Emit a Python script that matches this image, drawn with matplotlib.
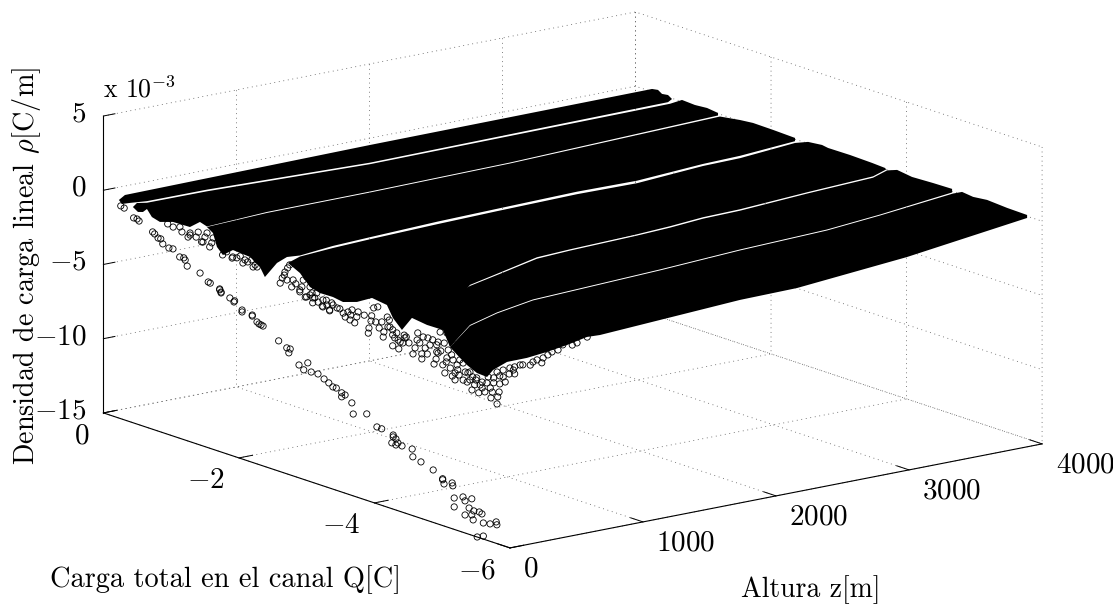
import matplotlib
matplotlib.use('Agg')
import matplotlib.pyplot as plt
from matplotlib.transforms import Affine2D
from mpl_toolkits.mplot3d.art3d import Poly3DCollection

plt.rcParams['font.family'] = ['cmr10', 'DejaVu Serif']
plt.rcParams['mathtext.fontset'] = 'cm'
plt.rcParams['axes.unicode_minus'] = False
plt.rcParams['grid.linestyle'] = (0, (1, 4.5))
plt.rcParams['grid.linewidth'] = 0.6
plt.rcParams['grid.color'] = '#555555'

# isolated points near the channel base
diag_z = 100
diag_q = [-0.06,-0.11,-0.25,-0.3,-0.33,-0.53,-0.56,-0.61,-0.65,-0.68,
          -0.77,-0.83,-0.93,-0.99,-1.01,-1.04,-1.23,-1.35,-1.38,-1.52,
          -1.54,-1.52,-1.54,-1.67,-1.73,-1.74,-1.85,-1.85,-2,-2,
          -2.07,-2.1,-2.13,-2.16,-2.39,-2.51,-2.56,-2.54,-2.69,-2.82,
          -2.76,-2.87,-2.97,-3.06,-3.13,-3.19,-3.24,-3.32,-3.37,-3.32,
          -3.47,-3.49,-3.69,-3.84,-3.91,-4.08,-4.08,-4.12,-4.15,-4.06,
          -4.12,-4.21,-4.36,-4.37,-4.49,-4.67,-4.81,-4.81,-4.83,-4.95,
          -4.96,-4.98,-4.98,-5.11,-5.14,-5.24,-5.2,-5.27,-5.35,-5.39,
          -5.14,-5.24,-5.26,-5.41,-5.51,-5.6,-5.61,-5.32,-5.41]
diag_rho = [-1.14,-1.21,-1.66,-1.66,-1.75,-2.18,-2.27,-2.47,-2.47,-2.76,
            -2.9,-2.87,-3.26,-3.23,-3.35,-3.71,-3.89,-4.31,-4.34,-4.58,
            -4.7,-4.52,-4.76,-4.9,-5.08,-4.99,-5.44,-5.57,-5.55,-5.62,
            -5.91,-6,-6.02,-6.05,-6.7,-6.99,-6.99,-7.28,-7.87,-7.53,
            -8.09,-8.07,-8.05,-8.25,-8.41,-8.59,-8.59,-8.79,-8.86,-9.06,
            -9.24,-9.96,-9.65,-10.3,-10.32,-10.48,-10.61,-10.68,-10.91,-11.04,
            -11.09,-11.02,-11,-11.51,-11.67,-11.94,-12.32,-12.39,-12.64,-12.39,
            -12.57,-13.36,-13.96,-13.09,-13.31,-13.02,-13.7,-13.79,-13.74,-13.81,
            -14.26,-14.1,-14.41,-14.39,-14.3,-14.03,-14.21,-15.47,-15.27]

# loose circles along the low edge of the bands
spike_z = 300
spike_q = [-0.44,-0.57,-0.69,-0.88,-0.98,-1.32,
           -1.47,-1.65,-0.36,-0.54,-0.66,-0.69,-0.81,-0.86,-0.91,-0.94,-1.01,-1.03,-1.17,-1.31,-1.38,-1.5,-1.6,-1.62,-1.68,-1.68,-2.02,
           -2.05,-2.08,-2.13,-2.16,-2.12,-2.19,-2.21,-2.31,-2.34,-2.41,-2.5,-2.5,-2.36,-2.41,-2.46,-2.65,-2.75,-2.86,-2.56,-2.65,-2.78,
           -2.39,-2.64,-2.75,-2.95,-2.98,-3.02,-3.12,-3.17,-3.15,-3.05,-3.32,-3.33,-3.36,-3.37,-3.4,-3.46,-3.48,-3.55,-3.54,-3.52,-3.6,
           -3.63,-3.68,-3.77,-3.71,-3.79,-3.86,-3.74,-3.68,-3.98,-4.01,-4.04,-4.16,-4.11,-4.19,-4.11,-4.05,-4.29,-4.32,-4.33,-4.35,-4.38,
           -4.44,-4.2,-4.48,-4.45,-4.42,-4.48,-4.5,-4.6,-4.6,-4.63,-4.55,-4.75,-4.67,-4.78,-4.85,-4.89,-4.95,-5.04,-5,-4.86,-5.07,-5.15,
           -5.25,-5.13,-5.23,-5.22,-5.26,-5.17,-5.31,-5.22,-5.4,-5.48,-5.71,-5.9,-5.88,-5.56,-5.41,-6.03,-6.19,-6.4,-6.55,-2.31,-2.46,
           -2.53,-2.58,-2.71,-2.8,-3.08,-3.61,-3.68,-3.83,-3.88,-4.13,-4.27,-4.35,-4.57,-4.64,-4.72,-4.79,-4.82,-4.92,-5,-5.09,-5.31,-5.46,
           -5.6,-5.75,-5.97,-6.33,
           -4.33,-4.39,-4.47,-4.53,-4.56,-4.66,-4.72,-4.82,-4.91,-4.97,-5.12,-5.17,-5.26,-5.34,
           -3.85,-3.92,-3.76,-3.64,-3.43,-3.26,-3.06,-2.9,-2.7,-2.49,-2.25,-2.09,-1.23,-1.43,-1.54,-0.78,
           -4.08,-4.23,-4.6,-5.48,-5.81,-6.12]
spike_rho = [-2.34,-2.47,-2.5,-2.68,-2.86,-3.02,-3.2,-3.06,-2.25,-2.18,-2.68,-2.36,-2.12,-2.7,-2.3,-1.98,-2.54,
             -2.18,-3.11,-3.11,-2.99,-2.95,-2.79,-3.24,-2.68,-3.15,-3.72,-3.33,-3.09,-2.53,-2.28,-3.36,-3.72,-3.22,-3.87,-3.49,-4.06,-3.99,
             -4.32,-3,-2.71,-3.31,-4.37,-4.42,-4.12,-3.56,-3.9,-3.9,-4.1,-4.33,-4.48,-4.33,-4.55,-4.15,-4.73,-3.92,-4.28,-4.64,-5.12,-4.76,
             -4.24,-3.88,-3.3,-3.14,-4.53,-4.69,-5.05,-4.06,-3.61,-3.77,-5.43,-5.5,-4.85,-5.01,-4.62,-4.47,-4.69,-5.52,-5.07,-4.49,-4.85,
             -5.32,-5.21,-5.66,-4,-5.73,-5.35,-4.85,-4.16,-3.44,-4.09,-4.11,-3.35,-6.09,-5.59,-5.03,-4.47,-6.33,-5.86,-5.28,-4.72,-5.57,
             -4.88,-6.2,-6.63,-6.22,-6.67,-6.47,-6.27,-5.73,-5.82,-6.32,-6.16,-6.74,-6.52,-7.01,-5.6,-5.66,-5.06,-4.86,-4.72,-4.12,-3.65,
             -2.88,-3.24,-3.87,-4.3,-2.28,-1.56,-1.11,-0.49,-3.74,-3.85,-3.94,-4.15,-4.15,-4.01,-3.92,-4.26,-4.35,-5.01,-4.53,-4.15,-4.13,
             -4.9,-5.03,-5.59,-5.01,-5.57,-6,-5.71,-5.87,-5.39,-4.59,-4.36,-3.8,-3.38,-2.57,-1.36,
             -4.38,-4.7,-5.32,-5.64,-6.13,-5.91,-6.16,-5.46,-5.87,-6.11,-6.09,-5.33,-5.06,-5.35,
             -4.45,-4.87,-4.92,-4.22,-4.2,-4,-4.29,-4.12,-3.84,-3.67,-3.42,-2.87,-2.81,-2.79,-3.02,-2.5,
             -4.63,-4.54,-3.98,-4.59,-3.15,-2.01]

# outlines of the six dense bands of points (Q, z, rho)
band1_q = [0.066,-0.023,-0.35,-0.35,-0.43,-0.489,-0.578,-0.637,-0.578,-0.35,-0.35,-0.348,-0.097,0.021]
band1_z = [150,150,1825,3946,3950,3950,3950,3950,3950,1825,600,150,150,150]
band1_rho = [-1.02,-0.55,0.38,0.44,0.49,0.31,0.37,0.19,-0.11,-0.81,-0.48,-0.47,-0.97,-1.22]

band2_q = [-0.141,-0.2,-0.348,-0.9,-0.9,-0.9,-0.9,-0.976,-1.154,-1.316,-1.316,-0.9,-0.9,-0.9,-0.9,-0.9,-0.9,-0.731,-0.539,-0.421,-0.348,-0.289,-0.215]
band2_z = [150,150,150,320,1545,3801,3891,3950,3950,3950,3950,2598,1545,771,320,267,192,150,150,150,150,150,150]
band2_rho = [-1.18,-0.82,-0.58,0.73,0.41,0.53,0.63,0.3,0.37,0.28,0.11,-1.32,-1.43,-1.45,-1.64,-1.24,-1.45,-1.29,-1.58,-1.43,-1,-1.29,-1.4]

band3_q = [-1.233,-1.8,-1.8,-1.8,-1.8,-1.8,-1.832,-2.128,-2.452,-2.452,-1.8,-1.8,-1.8,-1.8,-1.8,-1.8,-1.8,-1.8,-1.8,-1.8,-1.8,-1.8,-1.8,-1.8,-1.617,-1.469,-1.381,-1.322]
band3_z = [150,312,1087,2139,3718,3869,3950,3950,3950,3950,3869,3591,3094,2643,2042,1591,1087,809,561,463,388,297,260,185,150,150,150,150]
band3_rho = [-0.87,0.65,0.67,0.78,1.18,0.68,0.39,0.37,0.32,0.1,-1.73,-1.79,-2.05,-2,-2.1,-2.18,-2.34,-2.44,-2.65,-2.58,-2.85,-3.64,-2.9,-2.09,-1.84,-2.4,-1.99,-1.14]

band4_q = [-2.606,-3,-3,-3,-3,-3,-3,-3,-3,-3,-3,-3,-3,-3.264,-3.589,-3.781,-3.796,-3.604,-3,-3,-3,-3,-3,-3,-3,-3,-3,-3,-3,-3,-3,-3,-3,-3,-3,-3,-3,-3,-2.901,-2.754,-2.606,-2.429]
band4_z = [150,197,476,979,1430,2032,2483,2979,3258,3671,3769,3874,3919,3950,3950,3950,3950,3950,3761,3258,2979,2731,2483,1979,1731,1476,1227,1077,1024,904,791,716,648,603,491,378,273,197,150,150,150,150]
band4_rho = [-0.78,0.31,0.41,0.54,0.63,0.72,0.67,0.96,1,1.3,1.2,0.81,0.53,0.4,0.36,0.31,0.23,-0.52,-2.18,-2.44,-2.49,-2.66,-2.77,-2.9,-3,-3.5,-3.98,-5.4,-6.66,-6.11,-5.44,-6.12,-5.19,-4.24,-3.57,-3.64,-3.46,-2.99,-2.79,-2.61,-1.89,-1.48]

band5_q = [-4.2,-4.2,-4.2,-4.2,-4.2,-4.2,-4.2,-4.2,-4.2,-4.2,-4.2,-4.2,-4.2,-4.489,-4.77,-4.77,-4.2,-4.2,-4.2,-4.2,-4.2,-4.2,-4.2,-4.2,-4.2,-4.2,-4.2]
band5_z = [616,864,1120,1368,1872,2120,2368,2646,3150,3646,3752,3827,3939,3950,3950,3950,3699,3300,2646,2045,1090,819,616,466,413,315,315]
band5_rho = [-1.16,-0.7,-0.21,-0.1,0.03,0.13,0.3,0.35,0.62,0.82,1.13,1.03,0.36,0.37,0.4,0.16,-1.75,-2.06,-2.26,-2.55,-2.9,-3.3,-3.79,-5.01,-3.77,-2.93,-2.25]

band6_q = [-5.115,-5.2,-5.2,-5.2,-5.2,-5.2,-5.2,-5.2,-5.2,-5.2,-5.286,-5.582,-5.877,-5.877,-5.2,-5.2,-5.2,-5.2,-5.2,-5.2,-5.2,-5.2,-5.2,-5.2,-5.2,-5.2,-5.071,-4.968,-4.82]
band6_z = [150,310,580,1535,2137,2791,3189,3738,3806,3889,3950,3950,3950,3950,3392,2565,2137,1084,986,836,686,535,385,280,235,159,150,150,150]
band6_rho = [-1.65,-0.96,-0.56,-0.21,0.08,0.28,0.59,1.11,1.1,0.62,0.44,0.35,0.32,0.12,-2.56,-3.2,-3.25,-3.77,-3.73,-4.01,-4.21,-4.35,-4.36,-4.72,-5.11,-4.71,-4.35,-4.03,-3.52]

z_ticks = [0, 1000, 2000, 3000, 4000]
q_ticks = [-6, -4, -2, 0]
rho_ticks = [-15, -10, -5, 0, 5]

fig = plt.figure(figsize=(11.13, 6.04), dpi=100)
ax = fig.add_axes([76.7/1113, -172/604, 966/1113, 966/604], projection='3d', proj_type='ortho')
ax.set_box_aspect((670.6, 667.8, 307))
ax.view_init(elev=14.76, azim=-127.5)
ax.computed_zorder = False
ax.set_xlim(0, 4000)
ax.set_ylim(-6, 0)
ax.set_zlim(-15, 5)

bands = [(band1_z, band1_q, band1_rho), (band2_z, band2_q, band2_rho), (band3_z, band3_q, band3_rho),
         (band4_z, band4_q, band4_rho), (band5_z, band5_q, band5_rho), (band6_z, band6_q, band6_rho)]
for bz, bq, br in bands:
    ax.add_collection3d(Poly3DCollection([list(zip(bz, bq, br))], facecolors='k', edgecolors='none', linewidths=0, zorder=3))
for sz, sq, sr in [(diag_z, diag_q, diag_rho), (spike_z, spike_q, spike_rho)]:
    ax.scatter(sz, sq, sr, s=20, facecolors='none', edgecolors='k', linewidths=0.6, depthshade=False, zorder=4)

ax.set_xticks(z_ticks)
ax.set_xticklabels(['$%d$' % v for v in z_ticks])
ax.set_yticks(q_ticks)
ax.set_yticklabels(['$%d$' % v for v in q_ticks])
ax.set_zticks(rho_ticks)
ax.set_zticklabels(['$%d$' % v for v in rho_ticks])
ax.tick_params(labelsize=21)

for axis, factor in [(ax.xaxis, 0.38), (ax.yaxis, 0.32), (ax.zaxis, 0.27)]:
    axis.set_pane_color((1, 1, 1, 0))
    axis.pane.set_edgecolor('#555555')
    axis.pane.set_linestyle((0, (1, 4.5)))
    axis.pane.set_linewidth(0.6)
    axis.line.set_linewidth(0.8)
    axis.line.set_color('k')
    axis._axinfo['tick']['inward_factor'] = 0
    axis._axinfo['tick']['outward_factor'] = factor
    axis._axinfo['tick']['linewidth'] = {True: 0.7, False: 0.7}
    axis._axinfo['tick']['color'] = 'k'

# Axis3D.get_major_ticks resets the label transforms on every draw,
# so wrap it to keep a small pixel nudge on the tick labels
def nudge_labels(axis, ha, dx, dy):
    orig = axis.get_major_ticks
    def get_major_ticks(numticks=None):
        ticks = orig(numticks)
        for tick in ticks:
            tick.label1.set_ha(ha)
            tick.label1.set_transform(ax.transData + Affine2D().translate(dx, dy))
        return ticks
    axis.get_major_ticks = get_major_ticks

nudge_labels(ax.xaxis, 'left', 0.5, 5)
nudge_labels(ax.yaxis, 'right', 3, 2.5)
nudge_labels(ax.zaxis, 'right', 13, 14)

fig.text(226/1113, 1 - 580/604, 'Carga total en el canal Q[C]', fontsize=20.4, ha='center', va='center')
fig.text(811/1113, 1 - 590/604, 'Altura z[m]', fontsize=20, ha='center', va='center')
fig.text(27/1113, 1 - 265.5/604, r'Densidad de carga lineal $\rho$[C/m]', fontsize=20.3, rotation=90, ha='center', va='center')
fig.text(103/1113, 1 - 97/604, r'x 10$^{-3}$', fontsize=18.5, ha='left', va='baseline')
fig.savefig('out.png', dpi=100)
